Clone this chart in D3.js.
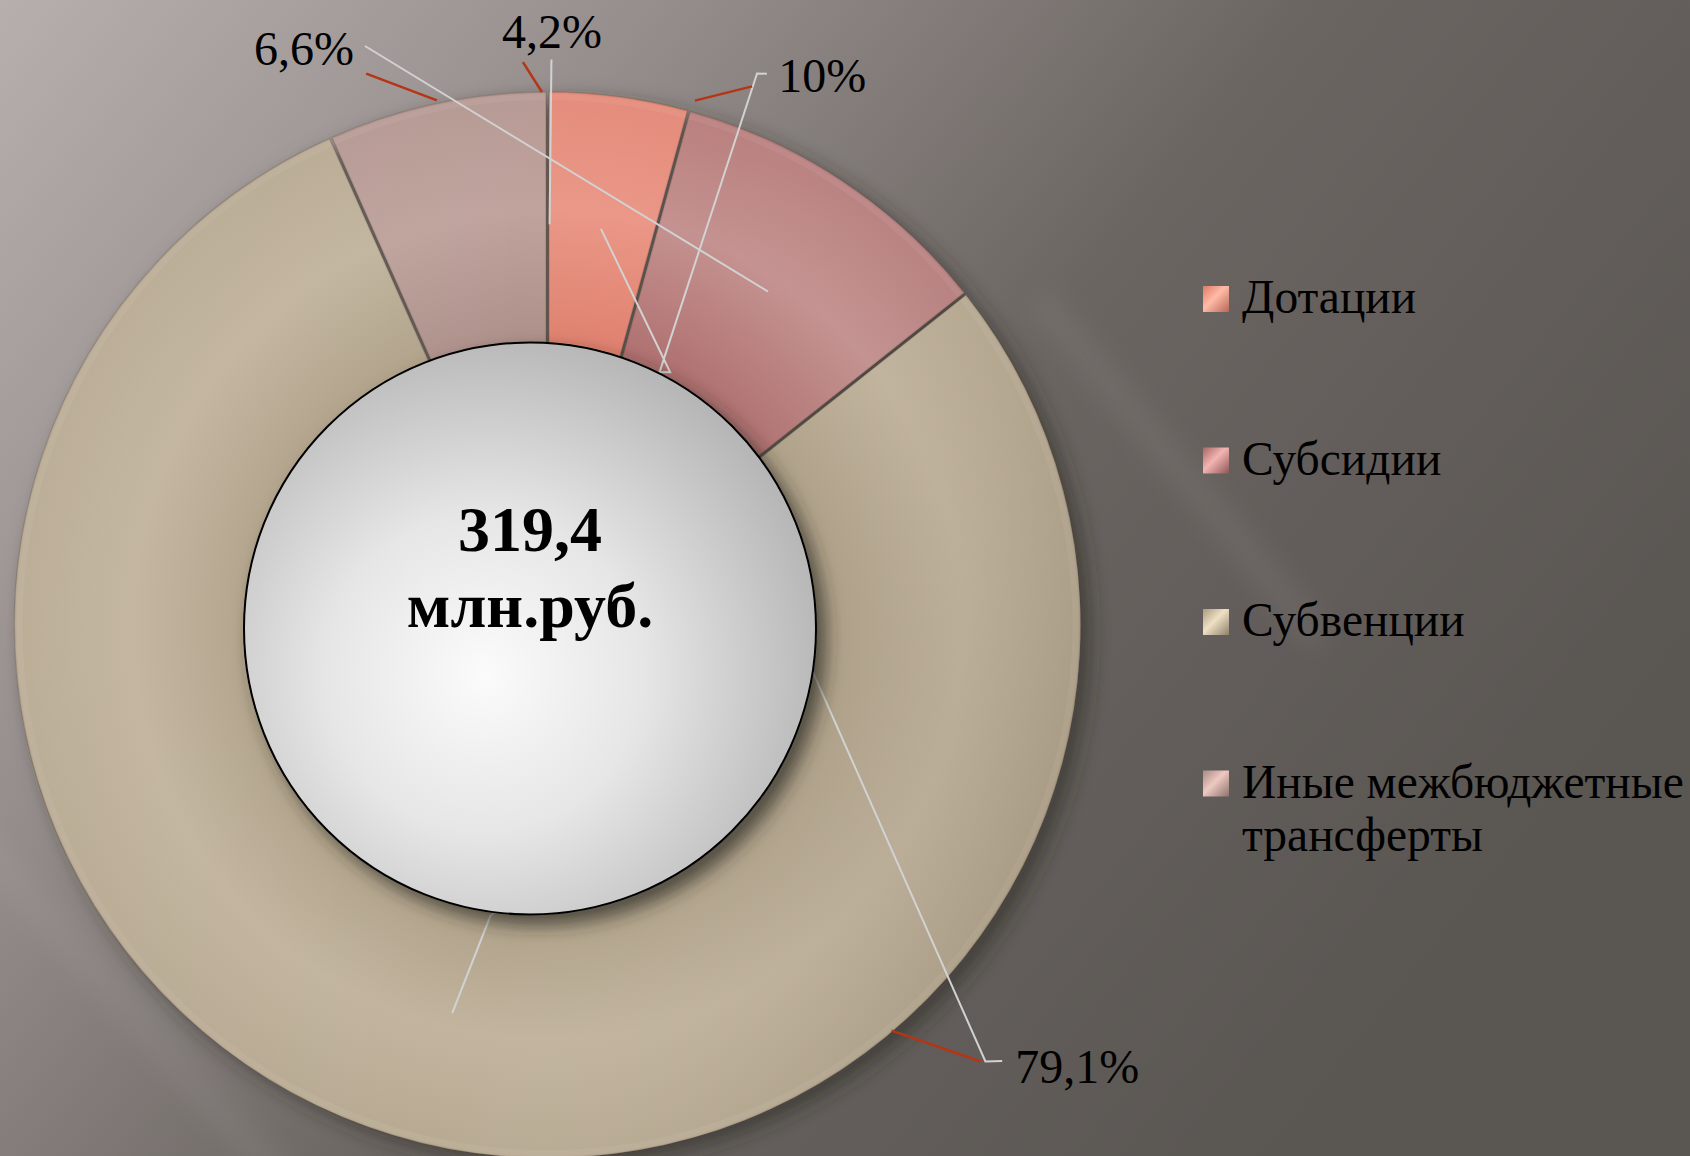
<!DOCTYPE html>
<html lang="ru">
<head>
<meta charset="utf-8">
<style>
html, body { margin: 0; padding: 0; }
body { width: 1690px; height: 1156px; overflow: hidden; }
text { font-family: "Liberation Serif", "Times New Roman", serif; }
</style>
<title>Межбюджетные трансферты</title>
<script src="https://cdn.jsdelivr.net/npm/d3@7"></script>
</head>
<body>
<div id="chart"></div>
<script>

// data
var categories = ["Дотации", "Субсидии", "Субвенции", "Иные межбюджетные трансферты"];
var shares = [4.2, 10, 79.1, 6.6];
var legendLines = [["Дотации"], ["Субсидии"], ["Субвенции"], ["Иные межбюджетные", "трансферты"]];
var totalLines = ["319,4", "млн.руб."];

// colours per slice: [inner, outer]
var sliceColors = [
	["#dc7a66", "#ea9787"],
	["#a96666", "#c49290"],
	["#a99a80", "#c2b49e"],
	["#a78983", "#bfa29c"]
];

var width = 1690,
	height = 1156;

var cx = 547.5, cy = 625, R = 533;

// label placement (angle in degrees clockwise from 12 o'clock, radius as part of R)
var labelLayout = [
	{ a: 0.45, r: 1.083, anchor: "middle",
	  red: [[-0.6, 1.0], [-2.5, 1.057]],
	  gray: [[0.4, 1.061], [0.3, 0.752]] },
	{ a: 23.4, r: 1.09, anchor: "start",
	  red: [[15.7, 1.022], [20.8, 1.081]],
	  gray: [[21.7, 1.113], [20.8, 1.107], [23.9, 0.519], [25.9, 0.527], "c0"] },
	{ a: 134.4, r: 1.228, anchor: "start",
	  red: [[139.7, 0.998], [135.2, 1.154]],
	  gray: [[133.8, 1.182], [134.9, 1.160], [100.3, 0.507], [191.1, 0.556], "c2"] },
	{ a: -23.5, r: 1.146, anchor: "middle",
	  red: [[-11.9, 1.006], [-18.2, 1.089]],
	  gray: [[-17.5, 1.139], "c1"] }
];

var svg = d3.select("#chart")
	.append("svg")
	.attr("width", width)
	.attr("height", height);

var defs = svg.append("defs");

// background gradient
var bg = defs.append("linearGradient")
	.attr("id", "bg")
	.attr("x1", 0).attr("y1", 0)
	.attr("x2", 1).attr("y2", 0.55);
bg.append("stop").attr("offset", 0).attr("stop-color", "#b6afad");
bg.append("stop").attr("offset", 0.3).attr("stop-color", "#958e8c");
bg.append("stop").attr("offset", 0.6).attr("stop-color", "#6b6562");
bg.append("stop").attr("offset", 0.8).attr("stop-color", "#625d5a");
bg.append("stop").attr("offset", 1).attr("stop-color", "#5a5652");

svg.append("rect")
	.attr("width", width)
	.attr("height", height)
	.attr("fill", "url(#bg)");

var blur = defs.append("filter").attr("id", "blur")
	.attr("x", "-20%").attr("y", "-20%").attr("width", "140%").attr("height", "140%");
blur.append("feGaussianBlur").attr("stdDeviation", 14);

// faint light streaks in the backdrop
svg.append("g")
	.attr("filter", "url(#blur)")
	.attr("opacity", 0.09)
	.selectAll("line")
	.data([[-40, 820, 300, 1200], [1040, 300, 1320, 640]])
	.enter()
	.append("line")
	.attr("x1", function(d) { return d[0]; })
	.attr("y1", function(d) { return d[1]; })
	.attr("x2", function(d) { return d[2]; })
	.attr("y2", function(d) { return d[3]; })
	.attr("stroke", "#d8d2d0")
	.attr("stroke-width", 26);

var shadow = defs.append("filter").attr("id", "shadow")
	.attr("x", "-20%").attr("y", "-20%").attr("width", "140%").attr("height", "140%");
shadow.append("feDropShadow")
	.attr("dx", 10).attr("dy", 8)
	.attr("stdDeviation", 10)
	.attr("flood-color", "#2a2624")
	.attr("flood-opacity", 0.55);

var circleShadow = defs.append("filter").attr("id", "cshadow")
	.attr("x", "-20%").attr("y", "-20%").attr("width", "140%").attr("height", "140%");
circleShadow.append("feDropShadow")
	.attr("dx", 9).attr("dy", 10)
	.attr("stdDeviation", 9)
	.attr("flood-color", "#2a2624")
	.attr("flood-opacity", 0.7);

// slice gradients (user space of the ring group, centred on 0,0)
sliceColors.forEach(function(c, i) {
	var g = defs.append("radialGradient")
		.attr("id", "slice" + i)
		.attr("gradientUnits", "userSpaceOnUse")
		.attr("cx", 0).attr("cy", 0).attr("r", R);
	g.append("stop").attr("offset", 0.45).attr("stop-color", c[0]);
	g.append("stop").attr("offset", 0.78).attr("stop-color", c[1]);
	g.append("stop").attr("offset", 1).attr("stop-color", d3.interpolateRgb(c[0], c[1])(0.6));

	var lg = defs.append("linearGradient")
		.attr("id", "leg" + i)
		.attr("x1", 0).attr("y1", 0).attr("x2", 1).attr("y2", 1);
	lg.append("stop").attr("offset", 0).attr("stop-color", c[0]);
	lg.append("stop").attr("offset", 0.45).attr("stop-color", d3.color(c[1]).brighter(0.6));
	lg.append("stop").attr("offset", 1).attr("stop-color", d3.color(c[0]).darker(0.5));
});

// left-to-right shading over the ring
var shade = defs.append("linearGradient")
	.attr("id", "shade")
	.attr("gradientUnits", "userSpaceOnUse")
	.attr("x1", -R).attr("y1", -R * 0.4)
	.attr("x2", R).attr("y2", R * 0.2);
shade.append("stop").attr("offset", 0).attr("stop-color", "#ffffff").attr("stop-opacity", 0.05);
shade.append("stop").attr("offset", 0.55).attr("stop-color", "#ffffff").attr("stop-opacity", 0);
shade.append("stop").attr("offset", 1).attr("stop-color", "#3a3020").attr("stop-opacity", 0.12);

var pie = d3.pie()
	.value(function(d) { return d; })
	.sort(null)
	.padAngle(0.005);

var arcs = pie(shares);

var arc = d3.arc()
	.innerRadius(R * 0.42)
	.outerRadius(R);

var rim = d3.arc()
	.innerRadius(R - 8)
	.outerRadius(R - 2);

var centroidArc = d3.arc()
	.innerRadius(R * 0.5)
	.outerRadius(R);

var ring = svg.append("g")
	.attr("transform", "translate(" + cx + "," + cy + ")");

var ringShapes = ring.append("g").attr("filter", "url(#shadow)");

ringShapes.selectAll("path.slice")
	.data(arcs)
	.enter()
	.append("path")
	.attr("class", "slice")
	.attr("d", arc)
	.attr("fill", function(d, i) { return "url(#slice" + i + ")"; })
	.attr("stroke", "rgba(80,60,50,0.22)")
	.attr("stroke-width", 1.5);

ring.append("g")
	.selectAll("path")
	.data(arcs)
	.enter()
	.append("path")
	.attr("d", arc)
	.attr("fill", "url(#shade)");

ring.append("g")
	.selectAll("path")
	.data(arcs)
	.enter()
	.append("path")
	.attr("d", rim)
	.attr("fill", "#ffffff")
	.attr("opacity", 0.06);

// leader lines
function polar(p) {
	if (typeof p === "string") {
		return centroidArc.centroid(arcs[+p.slice(1)]);
	}
	return d3.pointRadial(p[0] * Math.PI / 180, p[1] * R);
}

var line = d3.line();

ring.append("g")
	.selectAll("path")
	.data(labelLayout)
	.enter()
	.append("path")
	.attr("d", function(d) { return line(d.gray.map(polar)); })
	.attr("fill", "none")
	.attr("stroke", "#d2d2d2")
	.attr("stroke-width", 2);

ring.append("g")
	.selectAll("path")
	.data(labelLayout)
	.enter()
	.append("path")
	.attr("d", function(d) { return line(d.red.map(polar)); })
	.attr("fill", "none")
	.attr("stroke", "#b53515")
	.attr("stroke-width", 2.5);

// centre disc
var disc = defs.append("radialGradient")
	.attr("id", "disc")
	.attr("cx", 0.42).attr("cy", 0.58).attr("r", 0.62);
disc.append("stop").attr("offset", 0).attr("stop-color", "#fbfbfb");
disc.append("stop").attr("offset", 0.45).attr("stop-color", "#e6e6e6");
disc.append("stop").attr("offset", 1).attr("stop-color", "#b4b4b4");

var discX = cx - 17.5, discY = cy + 3.5, discR = 286;

svg.append("circle")
	.attr("cx", discX)
	.attr("cy", discY)
	.attr("r", discR)
	.attr("fill", "url(#disc)")
	.attr("stroke", "#000")
	.attr("stroke-width", 2)
	.attr("filter", "url(#cshadow)");

svg.append("g")
	.selectAll("text")
	.data(totalLines)
	.enter()
	.append("text")
	.attr("x", discX)
	.attr("y", function(d, i) { return discY - 78 + i * 76; })
	.attr("text-anchor", "middle")
	.style("font-size", "64px")
	.style("font-weight", "bold")
	.attr("fill", "#000")
	.text(function(d) { return d; });

// percentage labels
ring.append("g")
	.selectAll("text")
	.data(arcs)
	.enter()
	.append("text")
	.attr("x", function(d, i) { return polar([labelLayout[i].a, labelLayout[i].r])[0]; })
	.attr("y", function(d, i) { return polar([labelLayout[i].a, labelLayout[i].r])[1]; })
	.attr("text-anchor", function(d, i) { return labelLayout[i].anchor; })
	.style("font-size", "48px")
	.attr("fill", "#000")
	.text(function(d) { return String(d.data).replace(".", ",") + "%"; });

// legend
var legend = svg.append("g")
	.attr("transform", "translate(1203,313)");

var items = legend.selectAll("g")
	.data(categories)
	.enter()
	.append("g")
	.attr("transform", function(d, i) { return "translate(0," + i * 161.5 + ")"; });

items.append("rect")
	.attr("x", 0)
	.attr("y", -27)
	.attr("width", 26)
	.attr("height", 26)
	.attr("fill", function(d, i) { return "url(#leg" + i + ")"; });

items.append("text")
	.attr("x", 39)
	.style("font-size", "47.5px")
	.attr("fill", "#000")
	.selectAll("tspan")
	.data(function(d, i) { return legendLines[i]; })
	.enter()
	.append("tspan")
	.attr("x", 39)
	.attr("dy", function(d, j) { return j === 0 ? 0 : 53; })
	.text(function(d) { return d; });

</script>
</body>
</html>
